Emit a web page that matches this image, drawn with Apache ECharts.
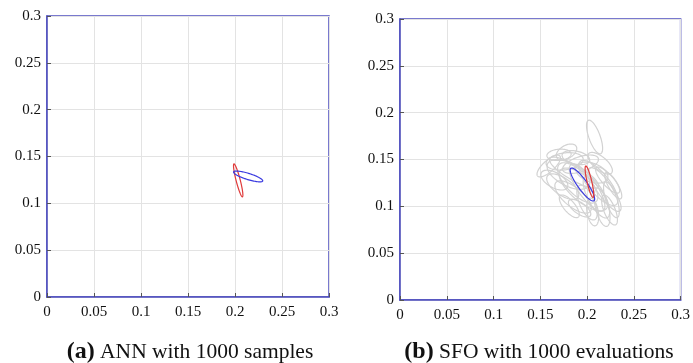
<!DOCTYPE html>
<html><head><meta charset="utf-8">
<script src="https://cdn.jsdelivr.net/npm/echarts@6/dist/echarts.min.js"></script>
<style>html,body{margin:0;padding:0;background:#fff}#c{width:693px;height:363px}</style>
</head><body><div id="c"></div>
<script>
// Axis ticks (both panels)
var tickValues = [0, 0.05, 0.1, 0.15, 0.2, 0.25, 0.3];
var panelTitles = ['ANN with 1000 samples', 'SFO with 1000 evaluations'];
var panelLetters = ['(a)', '(b)'];

// Ellipses: [centerX, centerY, semiMajor, semiMinor, angleDeg]
var annRed  = [[0.2034, 0.1245, 0.0181, 0.0022, -75.6]];
var annBlue = [[0.2140, 0.1287, 0.0162, 0.0033, -17.4]];
var sfoRed  = [[0.2025, 0.1263, 0.0172, 0.0025, -76.9]];
var sfoBlue = [[0.1950, 0.1233, 0.0213, 0.0052, -54.5]];
var sfoGray = [
  [0.208, 0.174, 0.019, 0.006, -70],
  [0.159, 0.143, 0.016, 0.006, 42],
  [0.176, 0.148, 0.020, 0.009, 8],
  [0.180, 0.134, 0.025, 0.012, -28],
  [0.190, 0.125, 0.028, 0.012, -45],
  [0.200, 0.120, 0.030, 0.010, -55],
  [0.210, 0.110, 0.025, 0.009, -62],
  [0.216, 0.099, 0.021, 0.007, -76],
  [0.222, 0.128, 0.018, 0.006, -48],
  [0.185, 0.110, 0.024, 0.010, -40],
  [0.174, 0.121, 0.020, 0.009, -35],
  [0.193, 0.145, 0.020, 0.008, 18],
  [0.205, 0.136, 0.018, 0.010, -20],
  [0.170, 0.155, 0.013, 0.006, 5],
  [0.200, 0.104, 0.020, 0.008, -66],
  [0.226, 0.107, 0.020, 0.006, -72],
  [0.188, 0.152, 0.015, 0.007, -12],
  [0.181, 0.100, 0.015, 0.006, -50],
  [0.214, 0.146, 0.016, 0.007, -40],
  [0.165, 0.128, 0.016, 0.008, -30],
  [0.196, 0.118, 0.032, 0.013, -40],
  [0.206, 0.094, 0.015, 0.006, -80],
  [0.219, 0.118, 0.028, 0.008, -55],
  [0.186, 0.136, 0.030, 0.008, -30],
  [0.178, 0.158, 0.012, 0.007, 30],
  [0.228, 0.122, 0.016, 0.005, -60],
  [0.224, 0.096, 0.017, 0.006, -68],
  [0.212, 0.125, 0.030, 0.011, -50],
  [0.192, 0.098, 0.014, 0.006, -35]
];

var boxColor = '#4d4dbe';
var gridColor = '#e3e3e3';
var font = '"Liberation Serif", "Times New Roman", serif';

function ellipseSeries(data, color, xi, z) {
  return {
    type: 'custom', xAxisIndex: xi, yAxisIndex: xi, z: z, silent: true,
    clip: true,
    data: data,
    encode: {x: 0, y: 1},
    renderItem: function (params, api) {
      var cx = api.value(0), cy = api.value(1), a = api.value(2), b = api.value(3);
      var t = api.value(4) * Math.PI / 180;
      var pts = [];
      for (var k = 0; k < 90; k++) {
        var s = k / 90 * 2 * Math.PI;
        var ex = a * Math.cos(s), ey = b * Math.sin(s);
        pts.push(api.coord([cx + ex * Math.cos(t) - ey * Math.sin(t), cy + ex * Math.sin(t) + ey * Math.cos(t)]));
      }
      return {type: 'polygon', shape: {points: pts}, style: {fill: null, stroke: color, lineWidth: 1.2}};
    }
  };
}

function axis(i, isX) {
  return {
    type: 'value', gridIndex: i, min: 0, max: 0.3, interval: 0.05,
    axisLine: {show: true, onZero: false, lineStyle: {color: boxColor, width: 1.5}},
    axisTick: {show: true, inside: true, length: 4, lineStyle: {color: '#555'}},
    splitLine: {show: true, lineStyle: {color: gridColor, width: 1}},
    axisLabel: {color: '#111', fontFamily: font, fontSize: 15, margin: isX ? 8 : 6,
      formatter: function (v) { return String(+v.toFixed(2)); }}
  };
}

var chart = echarts.init(document.getElementById('c'), null, {renderer: 'canvas'});
chart.setOption({
  animation: false,
  grid: [
    {left: 47, top: 16, width: 282, height: 281, show: true, borderColor: boxColor, borderWidth: 1.5, backgroundColor: 'transparent'},
    {left: 400, top: 19, width: 282, height: 281, show: true, borderColor: boxColor, borderWidth: 1.5, backgroundColor: 'transparent'}
  ],
  xAxis: [axis(0, true), axis(1, true)],
  yAxis: [axis(0, false), axis(1, false)],
  title: [
    {text: '{b|' + panelLetters[0] + '} ' + panelTitles[0], left: 185, top: 335, textAlign: 'center',
      textStyle: {fontFamily: font, fontSize: 21.5, fontWeight: 'normal', color: '#111',
        rich: {b: {fontFamily: font, fontSize: 24, fontWeight: 'bold', color: '#111'}}}},
    {text: '{b|' + panelLetters[1] + '} ' + panelTitles[1], left: 534, top: 335, textAlign: 'center',
      textStyle: {fontFamily: font, fontSize: 21.5, fontWeight: 'normal', color: '#111',
        rich: {b: {fontFamily: font, fontSize: 24, fontWeight: 'bold', color: '#111'}}}}
  ],
  series: [
    ellipseSeries(annRed, '#e03a3a', 0, 3),
    ellipseSeries(annBlue, '#3a3ae0', 0, 4),
    ellipseSeries(sfoGray, '#d2d2d2', 1, 2),
    ellipseSeries(sfoBlue, '#3a3ae0', 1, 3),
    ellipseSeries(sfoRed, '#e03a3a', 1, 4)
  ]
});
</script></body></html>
